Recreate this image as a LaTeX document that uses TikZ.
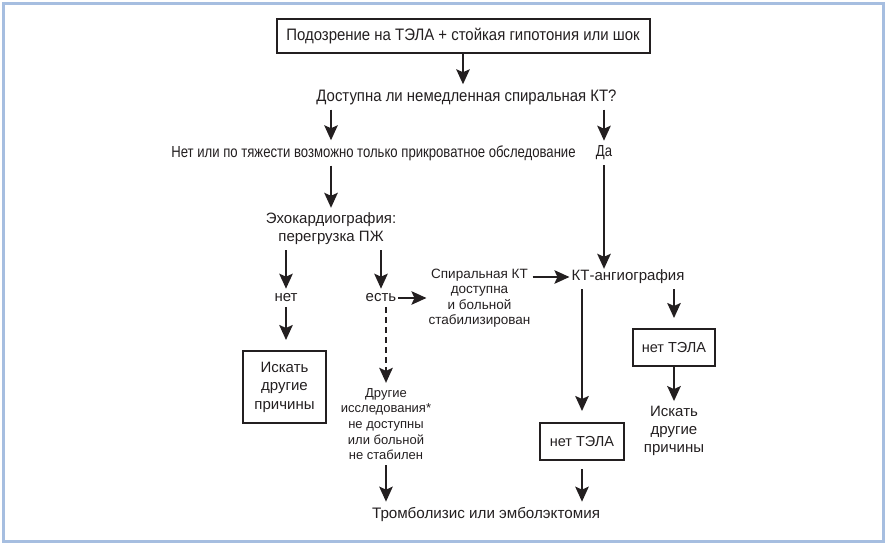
\documentclass[tikz,border=0pt]{standalone}
\usepackage{fontspec}
\setmainfont{Liberation Sans}
\newfontfamily\narrowf[FakeStretch=0.9]{Liberation Sans}
\newfontfamily\condf[FakeStretch=0.82]{Liberation Sans}
\usetikzlibrary{arrows.meta}
\definecolor{ink}{HTML}{231F20}
\definecolor{frameblue}{HTML}{A6BEE0}
\begin{document}
\begin{tikzpicture}[x=1pt,y=-1pt,
  every node/.style={text=ink, align=center, inner xsep=2pt, inner ysep=5pt},
  txt/.style={font=\fontsize{15}{18}\selectfont},
  small/.style={font=\fontsize{13}{15.7}\selectfont},
  boxed/.style={draw=ink, line width=2pt, inner sep=0pt},
  arr/.style={draw=ink, line width=2pt, -{Stealth[length=15pt,width=13.5pt,inset=3pt]}},
  dasharr/.style={arr, dash pattern=on 6pt off 4pt}
]
\useasboundingbox (0,0) rectangle (888,545);
\draw[frameblue, line width=3pt] (3.5,4) rectangle (883.5,541.5);

\node[boxed, minimum width=373pt, minimum height=34pt, font=\narrowf\fontsize{16.6}{19}\selectfont] (top) at (463,36) {Подозрение на ТЭЛА + стойкая гипотония или шок};
\node[font=\narrowf\fontsize{16.6}{19}\selectfont] (q) at (466.5,97) {Доступна ли немедленная спиральная КТ?};
\node[font=\condf\fontsize{16}{18}\selectfont] (no) at (373.5,153) {Нет или по тяжести возможно только прикроватное обследование};
\node[font=\condf\fontsize{16}{18}\selectfont] (da) at (604,153) {Да};
\node[txt] (echo) at (331,229) {Эхокардиография:\\перегрузка ПЖ};
\node[txt] (net) at (286,298) {нет};
\node[txt] (est) at (381,298) {есть};
\node[font=\fontsize{13.5}{15.5}\selectfont] (spiral) at (479.5,298) {Спиральная КТ\\доступна\\и больной\\стабилизирован};
\node[txt] (kt) at (628,277) {КТ-ангиография};
\node[boxed, txt, minimum width=83pt, minimum height=72pt, font=\fontsize{15}{18.5}\selectfont] (box1) at (284.5,387) {Искать\\другие\\причины};
\node[small] (other) at (386,424) {Другие\\исследования*\\не доступны\\или больной\\не стабилен};
\node[font=\fontsize{15.2}{18}\selectfont] (thromb) at (486,514) {Тромболизис или эмболэктомия};
\node[boxed, minimum width=84pt, minimum height=37pt, font=\fontsize{14.5}{17}\selectfont] (box2) at (582,441.5) {нет ТЭЛА};
\node[boxed, minimum width=82pt, minimum height=37pt, font=\fontsize{14.5}{17}\selectfont] (box3) at (674,347.5) {нет ТЭЛА};
\node[font=\fontsize{15}{18}\selectfont] (seek) at (674,431) {Искать\\другие\\причины};

\draw[arr] (top.south) -- (top.south |- q.north);
\draw[arr] (q.south -| echo) -- (no.north -| echo);
\draw[arr] (q.south -| da) -- (da.north);
\draw[arr] (no.south -| echo) -- (echo.north);
\draw[arr] (da.south) -- ([yshift=-4pt]da.south |- kt.north);
\draw[arr] (echo.south -| net) -- (net.north);
\draw[arr] (echo.south -| est) -- (est.north);
\draw[arr] (est.east) -- (spiral.west |- est.east);
\draw[arr] (kt.west -| spiral.east) -- (kt.west);
\draw[arr, shorten >=10pt] (net.south) -- (net.south |- box1.north);
\draw[dasharr] (est.south -| other) -- (other.north);
\draw[arr] (other.south) -- (thromb.north -| other.south);
\draw[arr, shorten >=11pt] (kt.south -| box2) -- (box2.north);
\draw[arr, shorten <=8pt] (box2.south) -- (thromb.north -| box2.south);
\draw[arr, shorten >=10pt] (kt.south -| box3) -- (box3.north);
\draw[arr] (box3.south) -- (seek.north);
\end{tikzpicture}
\end{document}
